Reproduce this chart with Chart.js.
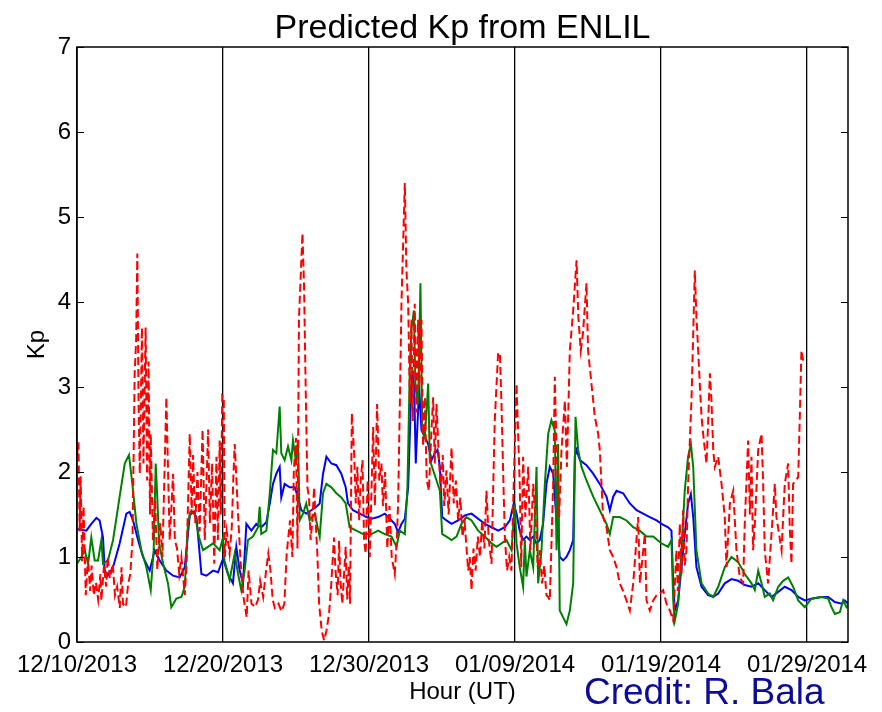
<!DOCTYPE html>
<html>
<head>
<meta charset="utf-8">
<title>Predicted Kp from ENLIL</title>
<script src="https://cdn.jsdelivr.net/npm/chart.js@4.4.1/dist/chart.umd.min.js"></script>
<style>
    html, body { margin: 0; padding: 0; background: #ffffff; }
    #kpChart { display: block; }
</style>
</head>
<body>
<canvas id="kpChart" width="882" height="712"></canvas>
<script>
// x values are days since 12/10/2013 00:00 UT
const dateLabels = ["12/10/2013", "12/20/2013", "12/30/2013", "01/09/2014", "01/19/2014", "01/29/2014"];
const kpTicks = [0, 1, 2, 3, 4, 5, 6, 7];

const redDays = [
    0.00, 0.10, 0.18, 0.25, 0.35, 0.45, 0.60, 0.75, 0.90, 1.00,
    1.15, 1.30, 1.45, 1.60, 1.67, 1.85, 2.00, 2.10, 2.25, 2.45,
    2.60, 2.75, 2.93, 3.05, 3.15, 3.35, 3.50, 3.65, 3.80, 3.88,
    3.95, 4.05, 4.13, 4.22, 4.30, 4.45, 4.55, 4.70, 4.80, 4.90,
    5.00, 5.05, 5.20, 5.35, 5.50, 5.70, 5.85, 6.12, 6.25, 6.35,
    6.58, 6.70, 6.85, 7.00, 7.15, 7.38, 7.50, 7.72, 7.85, 7.95,
    8.10, 8.25, 8.40, 8.60, 8.75, 8.98, 9.10, 9.25, 9.40, 9.55,
    9.65, 9.77, 9.85, 9.95, 10.05, 10.12, 10.25, 10.45, 10.60, 10.70,
    10.80, 10.92, 11.05, 11.20, 11.40, 11.62, 11.75, 11.95, 12.20, 12.40,
    12.54, 12.75, 12.95, 13.10, 13.25, 13.40, 13.55, 13.80, 14.00, 14.20,
    14.36, 14.59, 14.75, 14.85, 15.00, 15.10, 15.20, 15.44, 15.55, 15.66,
    15.78, 15.89, 16.00, 16.12, 16.24, 16.35, 16.46, 16.58, 16.76, 16.92,
    17.08, 17.26, 17.40, 17.60, 17.70, 17.85, 17.95, 18.05, 18.17, 18.40,
    18.50, 18.62, 18.70, 18.82, 18.98, 19.09, 19.20, 19.32, 19.43, 19.55,
    19.66, 19.77, 19.90, 20.05, 20.28, 20.40, 20.55, 20.70, 20.85, 20.95,
    21.10, 21.25, 21.40, 21.55, 21.76, 21.90, 21.99, 22.11, 22.22, 22.45,
    22.56, 22.68, 22.80, 22.90, 23.00, 23.13, 23.25, 23.36, 23.45, 23.59,
    23.70, 23.82, 23.95, 24.10, 24.25, 24.39, 24.50, 24.62, 24.75, 24.90,
    25.05, 25.15, 25.30, 25.45, 25.65, 25.80, 25.95, 26.10, 26.25, 26.40,
    26.55, 26.79, 26.90, 27.02, 27.15, 27.30, 27.45, 27.60, 27.75, 27.90,
    28.04, 28.20, 28.39, 28.50, 28.61, 28.84, 28.96, 29.07, 29.18, 29.30,
    29.45, 29.60, 29.75, 29.90, 30.10, 30.32, 30.42, 30.55, 30.70, 30.90,
    31.05, 31.24, 31.40, 31.55, 31.70, 31.85, 32.00, 32.15, 32.27, 32.38,
    32.50, 32.61, 32.72, 32.84, 33.02, 33.18, 33.41, 33.55, 33.75, 33.98,
    34.21, 34.33, 34.50, 34.65, 34.89, 35.00, 35.23, 35.35, 35.46, 35.69,
    35.80, 36.03, 36.26, 36.49, 36.72, 36.95, 37.17, 37.40, 37.63, 37.86,
    38.09, 38.43, 38.55, 38.89, 39.00, 39.23, 39.46, 39.69, 39.91, 40.14,
    40.37, 40.60, 40.83, 41.05, 41.15, 41.28, 41.40, 41.51, 41.62, 41.74,
    41.85, 42.08, 42.20, 42.31, 42.42, 42.54, 42.65, 42.77, 42.88, 43.00,
    43.11, 43.22, 43.34, 43.45, 43.57, 43.68, 43.91, 44.14, 44.36, 44.48,
    44.71, 44.94, 45.16, 45.39, 45.62, 45.73, 45.96, 46.08, 46.19, 46.30,
    46.42, 46.65, 46.88, 46.99, 47.10, 47.33, 47.56, 47.79, 47.90, 48.25,
    48.47, 48.70, 48.81, 48.93, 49.04, 49.39, 49.50, 49.61, 49.73
];
const redKp = [
    2.20, 2.35, 1.30, 1.95, 0.95, 1.60, 0.55, 1.00, 0.60, 0.90,
    0.55, 0.70, 0.50, 0.80, 0.49, 0.90, 0.65, 1.00, 0.75, 0.92,
    0.55, 0.65, 0.40, 0.88, 0.45, 0.41, 0.68, 0.80, 1.20, 2.22,
    3.16, 3.55, 4.57, 2.76, 1.98, 3.70, 2.10, 3.70, 1.90, 3.30,
    1.50, 2.45, 1.20, 1.67, 0.85, 1.40, 1.00, 2.88, 1.90, 1.20,
    1.98, 1.20, 1.10, 0.80, 1.00, 0.55, 0.90, 2.45, 1.50, 2.20,
    1.40, 2.00, 1.30, 2.50, 1.20, 2.50, 1.40, 2.10, 0.92, 2.18,
    1.20, 2.37, 1.50, 2.90, 2.88, 1.00, 1.30, 1.04, 1.35, 1.90,
    2.33, 1.90, 1.43, 0.95, 0.53, 0.29, 0.84, 0.45, 0.41, 0.50,
    0.72, 0.53, 0.84, 1.04, 0.84, 0.50, 0.40, 0.45, 0.36, 0.45,
    1.04, 1.43, 1.00, 2.02, 2.40, 1.10, 3.80, 4.81, 4.18, 3.00,
    1.82, 1.70, 1.20, 1.43, 1.82, 1.40, 1.04, 0.45, 0.13, 0.02,
    0.13, 0.33, 0.65, 1.23, 0.85, 0.55, 1.19, 0.70, 0.45, 1.12,
    0.50, 0.90, 0.45, 2.69, 2.22, 1.63, 2.06, 1.43, 1.90, 2.14,
    1.20, 1.04, 1.90, 1.00, 2.53, 1.60, 2.80, 1.90, 2.10, 1.60,
    2.00, 1.10, 1.60, 1.00, 0.80, 1.20, 1.63, 2.80, 3.98, 5.40,
    4.38, 3.98, 2.80, 3.79, 2.60, 3.98, 2.70, 3.79, 3.00, 3.79,
    2.30, 2.88, 1.90, 1.78, 2.40, 2.88, 2.10, 2.80, 2.29, 1.78,
    2.20, 1.60, 2.02, 1.50, 2.29, 1.63, 1.90, 1.43, 1.70, 1.24,
    1.40, 0.84, 1.00, 0.61, 1.10, 0.84, 1.24, 1.00, 1.43, 1.10,
    1.78, 1.20, 0.92, 1.80, 2.61, 3.40, 3.40, 2.80, 2.02, 1.24,
    0.84, 1.00, 0.84, 1.80, 3.04, 1.86, 0.88, 2.18, 1.47, 2.06,
    1.08, 1.86, 1.47, 0.88, 1.08, 0.69, 0.90, 0.55, 0.53, 0.49,
    1.20, 1.86, 3.12, 2.26, 1.47, 2.26, 2.84, 2.06, 3.43, 3.90,
    4.49, 3.83, 3.43, 3.63, 4.22, 3.43, 3.04, 2.84, 2.65, 2.45,
    2.26, 1.47, 1.35, 1.08, 1.00, 0.88, 0.69, 0.60, 0.49, 0.37,
    0.69, 1.47, 0.69, 1.27, 0.49, 0.37, 0.49, 0.55, 0.57, 0.61,
    0.45, 0.37, 0.25, 1.08, 0.60, 1.39, 0.80, 1.55, 0.90, 1.08,
    1.86, 2.84, 3.63, 4.37, 3.83, 3.43, 3.04, 2.65, 2.45, 2.26,
    2.10, 2.57, 3.16, 2.84, 2.26, 2.06, 2.18, 1.86, 1.47, 0.88,
    1.63, 1.78, 1.08, 0.76, 0.69, 1.39, 2.37, 1.50, 2.18, 1.08,
    1.39, 2.26, 2.45, 1.86, 1.08, 0.69, 1.27, 1.86, 1.47, 1.08,
    1.86, 2.10, 1.35, 0.92, 1.86, 1.94, 2.65, 3.43, 3.31
];

const blueDays = [
    0.00, 0.64, 0.98, 1.33, 1.55, 1.78, 1.90, 2.10, 2.47, 2.92,
    3.38, 3.60, 3.84, 4.18, 4.52, 4.98, 5.32, 5.66, 6.12, 6.58,
    7.03, 7.38, 7.72, 7.95, 8.18, 8.52, 8.86, 9.32, 9.66, 10.00,
    10.34, 10.68, 10.91, 11.14, 11.37, 11.60, 11.94, 12.28, 12.62, 12.97,
    13.20, 13.42, 13.65, 13.88, 13.99, 14.22, 14.56, 14.91, 15.14, 15.36,
    15.70, 16.05, 16.39, 16.62, 16.85, 17.08, 17.42, 17.76, 18.10, 18.40,
    18.56, 18.90, 19.36, 19.82, 20.17, 20.62, 21.08, 21.42, 21.76, 21.99,
    22.22, 22.45, 22.68, 22.86, 22.98, 23.09, 23.20, 23.32, 23.43, 23.59,
    23.82, 24.05, 24.28, 24.50, 24.69, 24.85, 25.01, 25.30, 25.65, 26.10,
    26.56, 27.02, 27.47, 27.93, 28.39, 28.84, 29.30, 29.64, 29.91, 30.10,
    30.32, 30.55, 30.78, 31.01, 31.24, 31.47, 31.69, 31.92, 32.15, 32.38,
    32.61, 32.84, 33.06, 33.29, 33.52, 33.75, 33.98, 34.09, 34.21, 34.44,
    34.89, 35.35, 35.80, 36.26, 36.49, 36.72, 36.95, 37.40, 37.86, 38.32,
    38.77, 39.23, 39.69, 40.03, 40.48, 40.71, 40.83, 40.94, 41.17, 41.40,
    41.62, 41.85, 42.04, 42.20, 42.42, 42.77, 43.22, 43.57, 43.91, 44.36,
    44.82, 45.28, 45.73, 46.19, 46.65, 47.10, 47.56, 48.02, 48.47, 48.93,
    49.39, 49.84, 50.30, 50.98, 51.44, 51.90, 52.36, 52.58, 52.80
];
const blueKp = [
    1.33, 1.31, 1.39, 1.46, 1.43, 1.23, 0.84, 0.78, 0.88, 1.16,
    1.51, 1.53, 1.43, 1.20, 1.00, 0.84, 1.08, 0.96, 0.84, 0.78,
    0.76, 0.88, 1.49, 1.53, 1.47, 0.80, 0.78, 0.84, 0.82, 0.98,
    0.80, 0.69, 1.12, 0.84, 0.69, 1.39, 1.31, 1.39, 1.35, 1.41,
    1.63, 1.86, 1.98, 2.06, 1.70, 1.86, 1.82, 1.82, 1.70, 1.55,
    1.51, 1.55, 1.59, 1.63, 1.98, 2.18, 2.10, 2.08, 1.98, 1.82,
    1.63, 1.55, 1.51, 1.47, 1.45, 1.47, 1.51, 1.45, 1.39, 1.29,
    1.39, 1.45, 1.82, 2.80, 3.20, 3.00, 2.10, 2.57, 3.00, 2.49,
    2.41, 2.33, 2.14, 2.22, 2.26, 2.06, 1.47, 1.43, 1.39, 1.43,
    1.49, 1.51, 1.45, 1.39, 1.35, 1.31, 1.35, 1.43, 1.63, 1.51,
    1.31, 1.20, 1.24, 1.20, 1.24, 1.16, 1.20, 1.39, 1.86, 2.06,
    1.98, 1.43, 1.00, 0.96, 1.00, 1.08, 1.20, 2.18, 2.26, 2.14,
    2.08, 1.98, 1.86, 1.71, 1.55, 1.71, 1.78, 1.75, 1.63, 1.55,
    1.51, 1.47, 1.43, 1.39, 1.35, 1.31, 0.69, 0.37, 0.49, 0.88,
    1.27, 1.63, 1.74, 1.47, 0.88, 0.65, 0.55, 0.53, 0.57, 0.69,
    0.74, 0.72, 0.67, 0.65, 0.69, 0.61, 0.53, 0.59, 0.65, 0.61,
    0.53, 0.49, 0.51, 0.53, 0.53, 0.47, 0.45, 0.49, 0.45
];

const greenDays = [
    0.00, 0.30, 0.53, 0.76, 0.98, 1.21, 1.44, 1.67, 1.78, 2.12,
    2.47, 2.92, 3.27, 3.56, 3.79, 4.07, 4.41, 4.75, 5.05, 5.25,
    5.39, 5.50, 5.62, 5.90, 6.23, 6.46, 6.80, 7.15, 7.38, 7.60,
    7.76, 8.06, 8.36, 8.63, 8.97, 9.32, 9.77, 10.00, 10.10, 10.45,
    10.80, 11.03, 11.25, 11.48, 11.71, 12.05, 12.40, 12.51, 12.62, 12.97,
    13.20, 13.42, 13.65, 13.88, 13.99, 14.22, 14.45, 14.68, 14.79, 14.98,
    15.14, 15.25, 15.48, 15.70, 15.93, 16.28, 16.62, 16.85, 17.08, 17.42,
    17.76, 18.10, 18.40, 18.67, 19.13, 19.59, 20.17, 20.62, 21.08, 21.54,
    21.88, 22.11, 22.45, 22.63, 22.79, 22.90, 23.07, 23.18, 23.36, 23.52,
    23.64, 23.82, 24.05, 24.16, 24.39, 24.62, 24.85, 25.01, 25.30, 25.65,
    25.99, 26.33, 26.67, 27.02, 27.47, 27.93, 28.39, 28.73, 29.07, 29.41,
    29.76, 29.98, 30.10, 30.32, 30.55, 30.67, 30.78, 31.01, 31.24, 31.47,
    31.58, 31.81, 32.04, 32.27, 32.49, 32.72, 32.84, 32.95, 33.06, 33.29,
    33.52, 33.75, 33.98, 34.14, 34.32, 34.55, 34.89, 35.35, 35.80, 36.26,
    36.49, 36.72, 37.17, 37.63, 38.09, 38.54, 39.00, 39.46, 40.03, 40.48,
    40.71, 40.83, 40.94, 41.17, 41.40, 41.62, 41.85, 42.04, 42.20, 42.42,
    42.77, 43.22, 43.57, 43.91, 44.36, 44.82, 45.28, 45.73, 46.19, 46.42,
    46.65, 46.88, 47.10, 47.44, 47.67, 48.02, 48.36, 48.70, 49.04, 49.39,
    49.84, 50.30, 50.98, 51.44, 51.67, 51.90, 52.24, 52.47, 52.70, 52.80
];
const greenKp = [
    0.92, 1.00, 1.08, 0.92, 1.23, 0.96, 0.96, 1.20, 0.92, 0.96,
    1.20, 1.71, 2.10, 2.20, 1.86, 1.39, 1.08, 0.88, 0.61, 1.08,
    2.10, 1.70, 1.16, 0.92, 0.69, 0.41, 0.51, 0.53, 0.65, 1.39,
    1.53, 1.51, 1.23, 1.08, 1.12, 1.16, 1.08, 1.23, 0.96, 0.73,
    1.04, 0.80, 0.61, 0.84, 1.20, 1.24, 1.35, 1.59, 1.27, 1.31,
    1.75, 2.26, 2.22, 2.77, 2.22, 2.14, 2.30, 2.14, 2.37, 2.14,
    2.37, 1.43, 1.51, 1.63, 1.43, 1.51, 1.24, 1.75, 1.86, 1.82,
    1.75, 1.70, 1.63, 1.35, 1.31, 1.27, 1.27, 1.31, 1.27, 1.24,
    1.12, 1.31, 1.27, 1.82, 3.20, 3.67, 3.90, 3.00, 2.80, 4.22,
    2.49, 2.41, 3.04, 2.14, 2.02, 1.90, 1.78, 1.27, 1.24, 1.20,
    1.24, 1.39, 1.47, 1.43, 1.31, 1.24, 1.16, 1.12, 1.16, 1.20,
    1.08, 1.63, 1.16, 0.88, 0.65, 1.20, 0.77, 1.08, 0.88, 2.06,
    0.69, 1.08, 1.86, 2.45, 2.61, 2.49, 1.08, 2.33, 0.37, 0.29,
    0.21, 0.37, 0.69, 2.65, 2.26, 2.06, 1.90, 1.71, 1.55, 1.39,
    1.27, 1.47, 1.47, 1.43, 1.35, 1.31, 1.24, 1.24, 1.16, 1.12,
    1.20, 0.49, 0.25, 0.45, 1.08, 1.78, 2.18, 2.33, 2.06, 1.08,
    0.69, 0.57, 0.53, 0.65, 0.88, 1.00, 0.94, 0.80, 0.69, 0.61,
    0.84, 0.69, 0.53, 0.57, 0.49, 0.65, 0.72, 0.76, 0.65, 0.49,
    0.41, 0.51, 0.53, 0.51, 0.41, 0.33, 0.35, 0.49, 0.41, 0.43
];

const fontFamily = "'Liberation Sans', Arial, Helvetica, sans-serif";

function toPoints(days, values) {
    return days.map((day, i) => ({ x: day, y: values[i] }));
}

// box around the plot area plus small inward ticks on both y sides, matlab style
const framePlugin = {
    id: "frame",
    afterDatasetsDraw(chart) {
        const { ctx, chartArea, scales } = chart;
        ctx.save();
        ctx.strokeStyle = "#000000";
        ctx.lineWidth = 1.5;
        ctx.strokeRect(chartArea.left, chartArea.top, chartArea.right - chartArea.left, chartArea.bottom - chartArea.top);
        ctx.lineWidth = 1;
        kpTicks.forEach((value) => {
            const y = Math.round(scales.y.getPixelForValue(value)) + 0.5;
            ctx.beginPath();
            ctx.moveTo(chartArea.left, y);
            ctx.lineTo(chartArea.left + 7, y);
            ctx.moveTo(chartArea.right - 7, y);
            ctx.lineTo(chartArea.right, y);
            ctx.stroke();
        });
        ctx.restore();
    },
};

const creditPlugin = {
    id: "credit",
    afterDraw(chart) {
        const { ctx } = chart;
        ctx.save();
        ctx.fillStyle = "#0c0c96";
        ctx.font = `37px ${fontFamily}`;
        ctx.textAlign = "left";
        ctx.textBaseline = "alphabetic";
        ctx.fillText("Credit: R. Bala", 584, 704);
        ctx.restore();
    },
};

const kpChart = new Chart(document.getElementById("kpChart"), {
    type: "line",
    data: {
        datasets: [
            {
                label: "Predicted Kp (red)",
                data: toPoints(redDays, redKp),
                borderColor: "#ff0000",
                borderWidth: 2,
                borderDash: [8, 4],
                pointRadius: 0,
                tension: 0,
            },
            {
                label: "Model Kp (green)",
                data: toPoints(greenDays, greenKp),
                borderColor: "#008000",
                borderWidth: 2,
                pointRadius: 0,
                tension: 0,
            },
            {
                label: "Model Kp (blue)",
                data: toPoints(blueDays, blueKp),
                borderColor: "#0000ff",
                borderWidth: 2,
                pointRadius: 0,
                tension: 0,
            },
        ],
    },
    options: {
        responsive: false,
        animation: false,
        layout: {
            padding: { left: 0, right: 34, top: 0, bottom: 0 },
        },
        scales: {
            x: {
                type: "linear",
                min: 0,
                max: 52.8,
                afterFit: (scale) => {
                    scale.height = 70;
                    scale.paddingLeft = 0;
                    scale.paddingRight = 0;
                },
                ticks: {
                    stepSize: 10,
                    includeBounds: false,
                    autoSkip: false,
                    maxRotation: 0,
                    padding: 9,
                    color: "#000000",
                    font: { family: fontFamily, size: 24 },
                    callback: (value) => (value % 10 === 0 ? dateLabels[value / 10] : ""),
                },
                grid: {
                    color: "#000000",
                    lineWidth: 1.3,
                    drawTicks: false,
                },
                border: { display: false },
                title: {
                    display: true,
                    text: "Hour (UT)",
                    color: "#000000",
                    font: { family: fontFamily, size: 24 },
                    padding: { top: 0, bottom: 5 },
                },
            },
            y: {
                min: 0,
                max: 7,
                afterFit: (scale) => {
                    scale.width = 77;
                    scale.paddingTop = 0;
                    scale.paddingBottom = 0;
                },
                ticks: {
                    stepSize: 1,
                    padding: 6,
                    color: "#000000",
                    font: { family: fontFamily, size: 24 },
                },
                grid: { display: false, drawTicks: false },
                border: { display: false },
                title: {
                    display: true,
                    text: "Kp",
                    color: "#000000",
                    font: { family: fontFamily, size: 24 },
                    padding: { top: 23, bottom: 0 },
                },
            },
        },
        plugins: {
            legend: { display: false },
            tooltip: { enabled: false },
            title: {
                display: true,
                fullSize: false,
                text: "Predicted Kp from ENLIL",
                color: "#000000",
                font: { family: fontFamily, size: 34, weight: "normal", lineHeight: 1 },
                padding: { top: 12, bottom: 1 },
            },
        },
    },
    plugins: [framePlugin, creditPlugin],
});
</script>
</body>
</html>
